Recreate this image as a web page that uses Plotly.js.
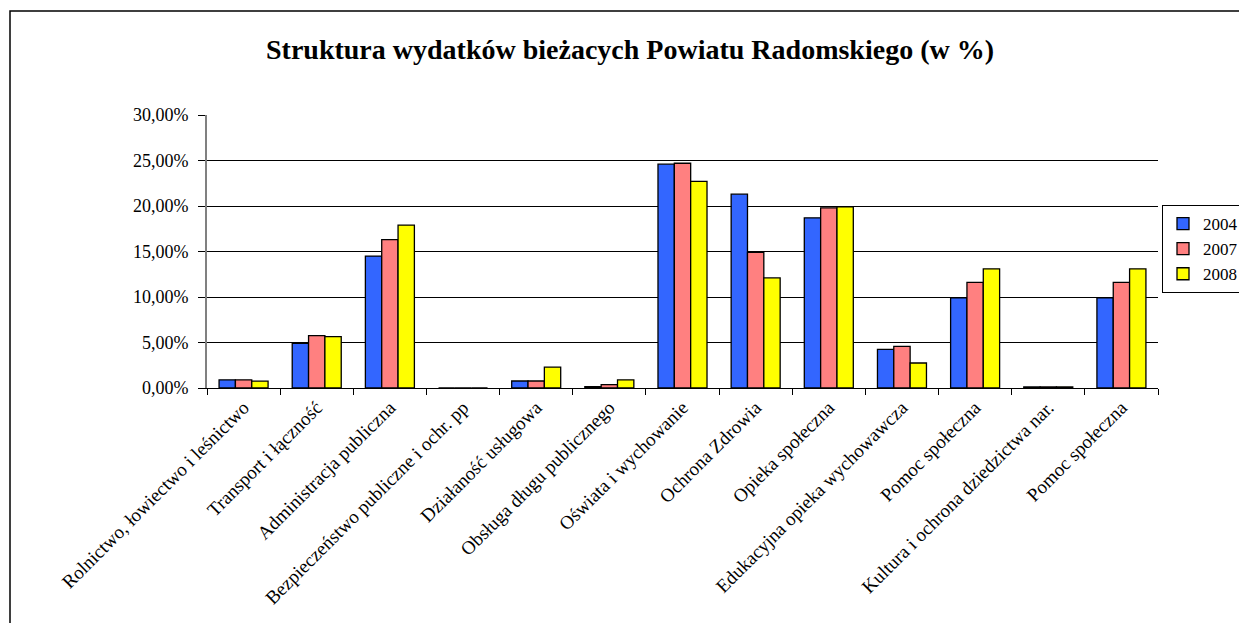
<!DOCTYPE html>
<html>
<head>
<meta charset="utf-8">
<script src="https://cdn.plot.ly/plotly-3.0.1.min.js"></script>
<style>
  html, body { margin: 0; padding: 0; background: #fff; }
  #chart { width: 1239px; height: 623px; }
</style>
</head>
<body>
<div id="chart"></div>
<script>
const categories = [
  "Rolnictwo, łowiectwo i leśnictwo",
  "Transport i łączność",
  "Administracja publiczna",
  "Bezpieczeństwo publiczne i ochr. pp",
  "Działaność usługowa",
  "Obsługa długu publicznego",
  "Oświata i wychowanie",
  "Ochrona Zdrowia",
  "Opieka społeczna",
  "Edukacyjna opieka wychowawcza",
  "Pomoc społeczna",
  "Kultura i ochrona dziedzictwa nar.",
  "Pomoc społeczna"
];
const seriesNames = ["2004", "2007", "2008"];
const values2004 = [0.9, 4.9, 14.5, 0, 0.77, 0.15, 24.6, 21.3, 18.7, 4.25, 9.9, 0.12, 9.9];
const values2007 = [0.9, 5.75, 16.3, 0, 0.77, 0.36, 24.7, 14.9, 19.8, 4.58, 11.6, 0.12, 11.6];
const values2008 = [0.75, 5.65, 17.9, 0, 2.3, 0.9, 22.7, 12.1, 19.9, 2.75, 13.1, 0.12, 13.1];
const yTicks = [0, 5, 10, 15, 20, 25, 30];
const yTickLabels = ["0,00%", "5,00%", "10,00%", "15,00%", "20,00%", "25,00%", "30,00%"];

const xIdx = categories.map((_, i) => i);
const boundaries = categories.map((_, i) => i - 0.5).concat([categories.length - 0.5]);
const colors = ["#3366FF", "#FF8080", "#FFFF00"];
const seriesVals = [values2004, values2007, values2008];

const traces = seriesNames.map((name, k) => ({
  type: "bar",
  name: name,
  x: xIdx,
  y: seriesVals[k],
  marker: { color: colors[k], line: { color: "#000", width: 1.3 } },
  hoverinfo: "none"
}));

const L = 207, R = 1158, T = 115, B = 388, W = 1239, H = 623;
const pw = R - L, ph = B - T;
const px2x = p => (p - L) / pw;
const px2y = p => (B - p) / ph;
const FONT = "Liberation Serif, Times New Roman, serif";

const layout = {
  width: W, height: H,
  margin: { l: L, r: W - R, t: T, b: H - B, pad: 0, autoexpand: false },
  paper_bgcolor: "#fff",
  plot_bgcolor: "#fff",
  barmode: "group",
  bargap: 0.33,
  bargroupgap: 0,
  showlegend: true,
  font: { family: FONT, color: "#000", size: 17 },
  title: {
    text: "<b>Struktura wydatków bieżacych Powiatu Radomskiego (w %)</b>",
    font: { family: FONT, size: 28, color: "#000" },
    x: px2x(630), xref: "paper", xanchor: "center",
    y: 1 - 49 / H, yanchor: "middle"
  },
  xaxis: {
    range: [-0.5, categories.length - 0.5],
    tickmode: "array",
    tickvals: xIdx,
    ticktext: categories,
    tickangle: -45,
    ticks: "",
    ticklen: 0,
    showgrid: false,
    zeroline: false,
    showline: true,
    linecolor: "#000",
    linewidth: 1,
    tickfont: { family: FONT, size: 19, color: "#000" },
    minor: { tickmode: "array", tickvals: boundaries, ticks: "outside", ticklen: 6, tickcolor: "#000", tickwidth: 1, showgrid: false },
    fixedrange: true
  },
  yaxis: {
    range: [0, 30],
    tickmode: "array",
    tickvals: yTicks,
    ticktext: yTickLabels,
    ticks: "outside",
    ticklen: 7,
    tickcolor: "#000",
    ticklabelstandoff: 6,
    showgrid: true,
    gridcolor: "#000",
    gridwidth: 1,
    zeroline: false,
    showline: true,
    linecolor: "#808080",
    linewidth: 2,
    tickfont: { family: FONT, size: 18, color: "#000" },
    fixedrange: true
  },
  legend: {
    x: px2x(1162), xanchor: "left",
    y: px2y(205), yanchor: "top",
    bgcolor: "#fff",
    bordercolor: "#000",
    borderwidth: 1,
    font: { family: FONT, size: 17, color: "#000" },
    itemwidth: 30,
    tracegroupgap: 8
  },
  shapes: [{
    type: "rect", xref: "paper", yref: "paper",
    x0: px2x(10), x1: px2x(1300), y0: px2y(700), y1: px2y(11),
    line: { color: "#000", width: 1.5 }, fillcolor: "rgba(0,0,0,0)", layer: "below"
  }]
};

Plotly.newPlot("chart", traces, layout, { displayModeBar: false, staticPlot: true });
</script>
</body>
</html>
